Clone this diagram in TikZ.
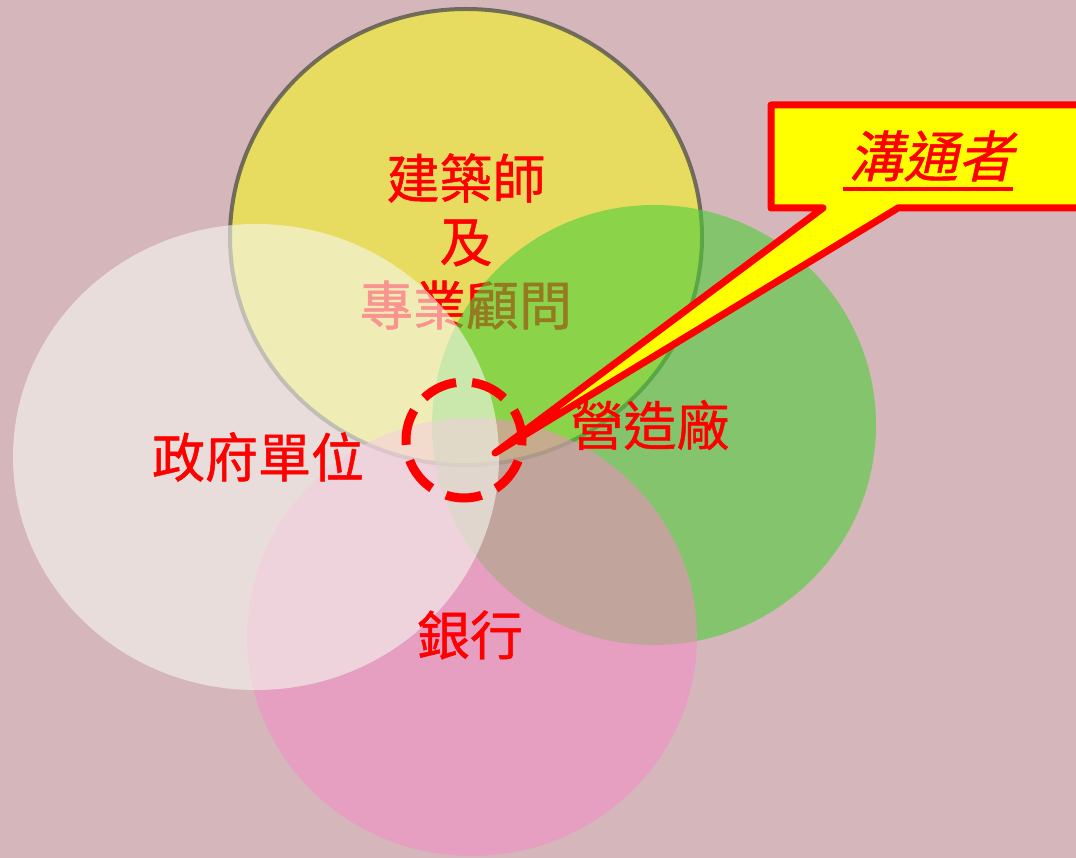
\documentclass[tikz,border=0pt]{standalone}
\usepackage{fontspec}
\newfontfamily\cjk[FakeBold=0.9]{Noto Sans CJK TC}
\newfontfamily\cjkslant[FakeSlant=0.22,FakeBold=0.9]{Noto Sans CJK TC}
\definecolor{bgc}{RGB}{213,183,187}
\definecolor{yel}{RGB}{232,220,96}
\definecolor{grn}{RGB}{78,206,57}
\definecolor{pnk}{RGB}{244,141,197}
\definecolor{wht}{RGB}{245,247,240}
\definecolor{rimc}{RGB}{85,85,75}
\definecolor{txtred}{RGB}{255,0,0}
\definecolor{callyel}{RGB}{255,255,0}
\tikzset{
  lbl/.style={text=txtred, font=\cjk\fontsize{53}{60}\selectfont, inner sep=0pt},
  calltxt/.style={text=txtred, font=\cjkslant\fontsize{55}{62}\selectfont, inner sep=0pt},
}
\begin{document}
\begin{tikzpicture}[x=1pt,y=-1pt]
\useasboundingbox (0,0) rectangle (1076,858);
\clip (0,0) rectangle (1076,858);
\fill[bgc] (0,0) rectangle (1076,858);
% architect circle
\fill[yel] (466,237) ellipse [x radius=236pt, y radius=228pt];
\draw[rimc, line width=4pt, opacity=0.8] (466,237) ellipse [x radius=236pt, y radius=228pt];
\node[lbl] (arch) at (466,178) {建築師};
\node[lbl] (and) at (466,243) {及};
\node[lbl] (cons) at (466,305) {專業顧問};
% contractor
\fill[grn, fill opacity=0.6] (654,425) ellipse [x radius=222pt, y radius=220pt];
% bank
\fill[pnk, fill opacity=0.55] (472,637) ellipse [x radius=225pt, y radius=219pt];
% government
\fill[wht, fill opacity=0.6] (256,457) ellipse [x radius=243pt, y radius=233pt];
\node[lbl] (gov) at (258,457) {政府單位};
\node[lbl] (ctr) at (650,425) {營造廠};
\node[lbl] (bank) at (470,635) {銀行};
% dashed centre circle
\draw[txtred, line width=9pt, dash pattern=on 36pt off 16pt, dash phase=5pt] (464,440) circle [radius=58pt];
\coordinate (tip) at (495,453);
% callout
\draw[txtred, line width=7pt, line join=round, fill=callyel]
  (771,105) -- (1090,105) -- (1090,208) -- (898,208) -- (tip) -- (823,208) -- (771,208) -- cycle;
\node[calltxt] (comm) at (931,156) {溝通者};
\draw[txtred, line width=3.5pt] (843,189) -- (1013,189);
\end{tikzpicture}
\end{document}
